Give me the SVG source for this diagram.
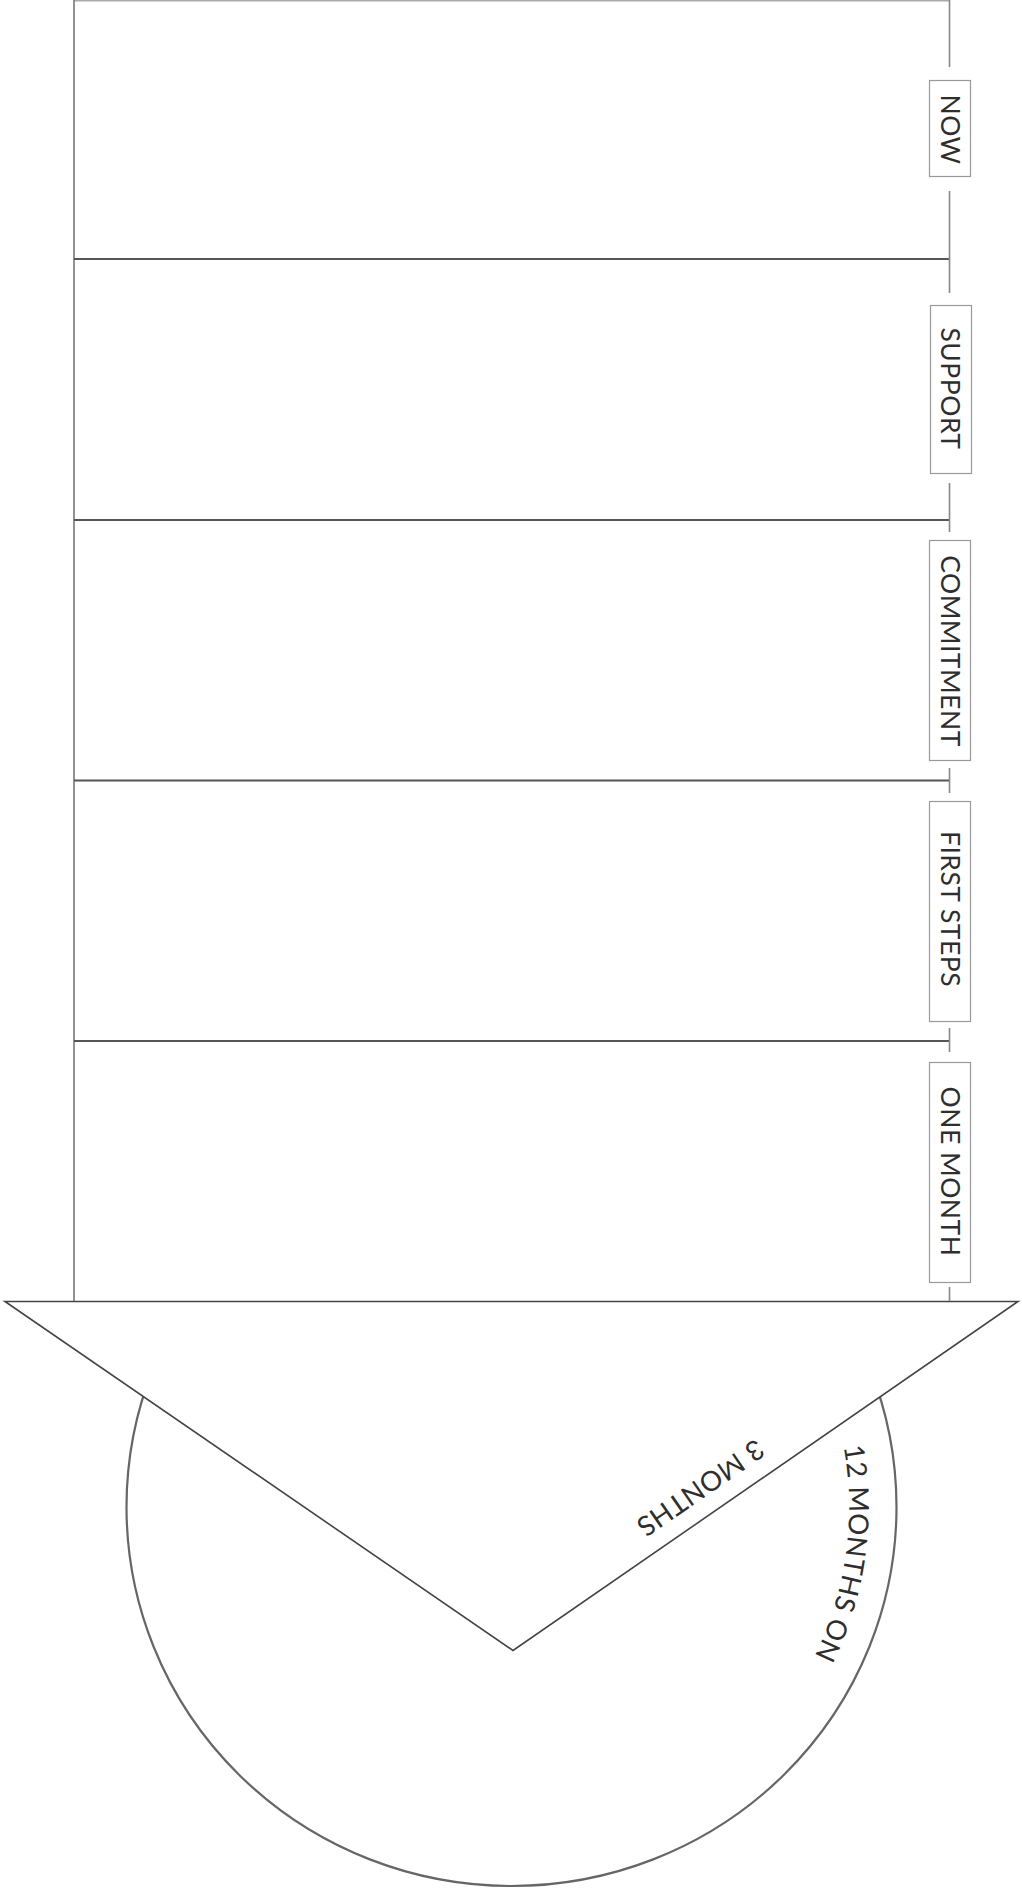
<svg xmlns="http://www.w3.org/2000/svg" width="1022" height="1888" viewBox="0 0 1022 1888">
  <style>
    .frame { stroke: #777; stroke-width: 1.6; fill: none; }
    .hline { stroke: #555; stroke-width: 1.8; fill: none; }
    .spine { stroke: #888; stroke-width: 1.6; fill: none; }
    .box { fill: #fff; stroke: #999; stroke-width: 1.2; }
    .label { font-family: Lato, "Open Sans", "Liberation Sans", sans-serif; font-size: 26.5px; fill: #2e2e2e; letter-spacing: 0.5px; }
    .arc-label { font-family: Lato, "Open Sans", "Liberation Sans", sans-serif; font-size: 27.5px; fill: #2e2e2e; letter-spacing: 0.5px; }
  </style>
  <defs>
    <path id="arcPath" d="M 769.9 1289.7 A 338 338 0 0 1 700.0 1787.3"/>
    <clipPath id="belowTop">
      <rect x="0" y="1301.5" width="1022" height="600"/>
    </clipPath>
  </defs>
  <rect width="1022" height="1888" fill="#fff"/>

  <!-- circle behind the triangle -->
  <g id="circle">
    <ellipse cx="511.5" cy="1507" rx="385" ry="379" fill="#fff" stroke="#666" stroke-width="2.2" clip-path="url(#belowTop)"/>
    <text class="arc-label"><textPath href="#arcPath" startOffset="50%" text-anchor="middle">12 MONTHS ON</textPath></text>
  </g>

  <!-- triangle -->
  <g id="triangle">
    <polygon points="5,1301.5 1018,1301.5 513,1650.5" fill="#fff" stroke="#444" stroke-width="1.6" stroke-linejoin="miter"/>
    <text class="arc-label" transform="translate(695,1480) rotate(145.35)" text-anchor="middle">3 MONTHS</text>
  </g>

  <!-- frame and separators -->
  <g id="connectors">
    <line class="frame" x1="74" y1="0.8" x2="949" y2="0.8" style="stroke:#aaa"/>
    <line class="frame" x1="74" y1="0" x2="74" y2="1301"/>
    <line class="hline" x1="74" y1="259" x2="949" y2="259"/>
    <line class="hline" x1="74" y1="520" x2="949" y2="520"/>
    <line class="hline" x1="74" y1="780.5" x2="949" y2="780.5"/>
    <line class="hline" x1="74" y1="1041" x2="949" y2="1041"/>
    <line class="spine" x1="949.5" y1="0" x2="949.5" y2="67"/>
    <line class="spine" x1="949.5" y1="191" x2="949.5" y2="293"/>
    <line class="spine" x1="949.5" y1="483" x2="949.5" y2="532"/>
    <line class="spine" x1="949.5" y1="768" x2="949.5" y2="793"/>
    <line class="spine" x1="949.5" y1="1028" x2="949.5" y2="1052"/>
    <line class="spine" x1="949.5" y1="1287" x2="949.5" y2="1301"/>
  </g>

  <g id="now">
    <rect class="box" x="929.5" y="80.5" width="41" height="96"/>
    <text class="label" transform="translate(941,129.5) rotate(90)" text-anchor="middle">NOW</text>
  </g>
  <g id="support">
    <rect class="box" x="930.5" y="305.5" width="41" height="168"/>
    <text class="label" transform="translate(941,388.5) rotate(90)" text-anchor="middle">SUPPORT</text>
  </g>
  <g id="commitment">
    <rect class="box" x="929.5" y="540.5" width="41" height="220"/>
    <text class="label" transform="translate(941,651) rotate(90)" text-anchor="middle">COMMITMENT</text>
  </g>
  <g id="first-steps">
    <rect class="box" x="929.5" y="801.5" width="41" height="220"/>
    <text class="label" transform="translate(941,909) rotate(90)" text-anchor="middle">FIRST STEPS</text>
  </g>
  <g id="one-month">
    <rect class="box" x="929.5" y="1062.5" width="41" height="220"/>
    <text class="label" transform="translate(941,1171.5) rotate(90)" text-anchor="middle">ONE MONTH</text>
  </g>
</svg>
